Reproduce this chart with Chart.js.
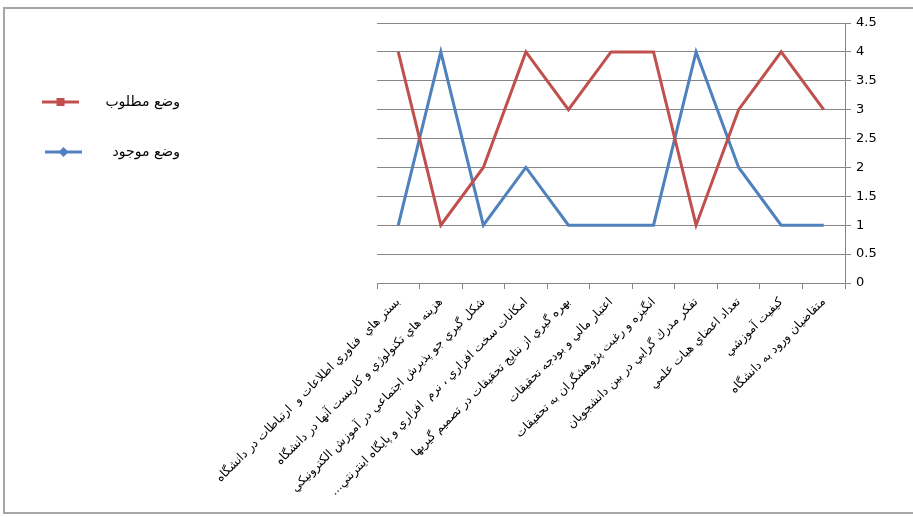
<!DOCTYPE html>
<html>
<head>
<meta charset="utf-8">
<script src="https://cdn.jsdelivr.net/npm/chart.js@4.4.3/dist/chart.umd.min.js"></script>
<style>
  html, body { margin: 0; padding: 0; background: #fff; }
  #chart { display: block; }
</style>
</head>
<body>
<canvas id="chart" width="913" height="517" dir="rtl"></canvas>
<script>
// Categories in the order they appear from left to right
const categories = [
  'بستر هاي  فناوري اطلاعات و  ارتباطات در دانشگاه',
  'هزينه هاي تكنولوژي و كاربست آنها در دانشگاه',
  'شكل گيري جو پذيرش اجتماعي در آموزش الكترونيكي',
  'امكانات سخت افزاري ، نرم  افزاري و پايگاه اينترنتي...',
  'بهره گيري از نتايج تحقيقات در تصميم گيريها',
  'اعتبار مالي و بودجه تحقيقات',
  'انگيزه و رغبت پژوهشگران به تحقيقات',
  'تفكر مدرك گرايي در بين دانشجويان',
  'تعداد اعضاي هيات علمي',
  'كيفيت آموزشي',
  'متقاضيان ورود به دانشگاه'
];

const seriesNames = ['وضع مطلوب', 'وضع موجود'];
const desiredValues = [4, 1, 2, 4, 3, 4, 4, 1, 3, 4, 3];
const currentValues = [1, 4, 1, 2, 1, 1, 1, 4, 2, 1, 1];

const yMin = 0;
const yMax = 4.5;
const yStep = 0.5;

const RED = '#C0504D';
const BLUE = '#4F81BD';
const GRID = '#868686';

// outer frame like the Excel chart border
const framePlugin = {
  id: 'frame',
  beforeDraw(chart) {
    const ctx = chart.ctx;
    ctx.save();
    ctx.fillStyle = '#fff';
    ctx.fillRect(0, 0, chart.width, chart.height);
    ctx.strokeStyle = '#a6a6a6';
    ctx.lineWidth = 2;
    ctx.strokeRect(4, 8, chart.width + 10, 505);
    ctx.restore();
  }
};

// legend on the left: line + marker, text to the right
const legendPlugin = {
  id: 'sideLegend',
  afterDraw(chart) {
    const ctx = chart.ctx;
    const rows = [
      { ds: chart.data.datasets[0], y: 102, x0: 42, x1: 79, marker: 'rect' },
      { ds: chart.data.datasets[1], y: 152, x0: 45, x1: 82, marker: 'diamond' }
    ];
    ctx.save();
    for (const r of rows) {
      const c = r.ds.borderColor;
      ctx.strokeStyle = c;
      ctx.lineWidth = 3;
      ctx.beginPath();
      ctx.moveTo(r.x0, r.y);
      ctx.lineTo(r.x1, r.y);
      ctx.stroke();
      const mx = (r.x0 + r.x1) / 2;
      ctx.fillStyle = c;
      if (r.marker === 'rect') {
        ctx.fillRect(mx - 4, r.y - 4, 8, 8);
      } else {
        ctx.beginPath();
        ctx.moveTo(mx, r.y - 5);
        ctx.lineTo(mx + 5, r.y);
        ctx.lineTo(mx, r.y + 5);
        ctx.lineTo(mx - 5, r.y);
        ctx.closePath();
        ctx.fill();
      }
      ctx.fillStyle = '#000';
      ctx.font = '14px "DejaVu Sans", sans-serif';
      ctx.textAlign = 'right';
      ctx.textBaseline = 'middle';
      ctx.fillText(r.ds.label, 180, r.y);
    }
    ctx.restore();
  }
};

const ctx = document.getElementById('chart');
new Chart(ctx, {
  type: 'line',
  data: {
    labels: categories,
    datasets: [
      {
        label: seriesNames[0],
        data: desiredValues,
        borderColor: RED,
        backgroundColor: RED,
        borderWidth: 3,
        pointRadius: 0,
        tension: 0
      },
      {
        label: seriesNames[1],
        data: currentValues,
        borderColor: BLUE,
        backgroundColor: BLUE,
        borderWidth: 3,
        pointRadius: 0,
        tension: 0
      }
    ]
  },
  options: {
    responsive: false,
    devicePixelRatio: 1,
    animation: false,
    layout: { padding: { left: 377, top: 23, right: 10, bottom: 10 } },
    plugins: {
      legend: { display: false },
      tooltip: { enabled: false }
    },
    scales: {
      x: {
        offset: true,
        grid: {
          offset: true,
          drawOnChartArea: false,
          drawTicks: true,
          tickLength: 6,
          color: GRID
        },
        border: { display: true, color: GRID, width: 1 },
        ticks: {
          autoSkip: false,
          minRotation: 45,
          maxRotation: 45,
          padding: 6,
          color: '#000',
          font: { family: '"DejaVu Sans", sans-serif', size: 12 }
        },
        afterFit(scale) { scale.height = 224; }
      },
      y: {
        position: 'right',
        min: yMin,
        max: yMax,
        grid: { color: GRID, tickLength: 6 },
        border: { display: true, color: GRID, width: 1 },
        ticks: {
          stepSize: yStep,
          padding: 5,
          color: '#000',
          font: { family: '"DejaVu Sans", sans-serif', size: 13 },
          callback: (v) => String(v)
        },
        afterFit(scale) { scale.width = 58; }
      }
    }
  },
  plugins: [framePlugin, legendPlugin]
});
</script>
</body>
</html>
